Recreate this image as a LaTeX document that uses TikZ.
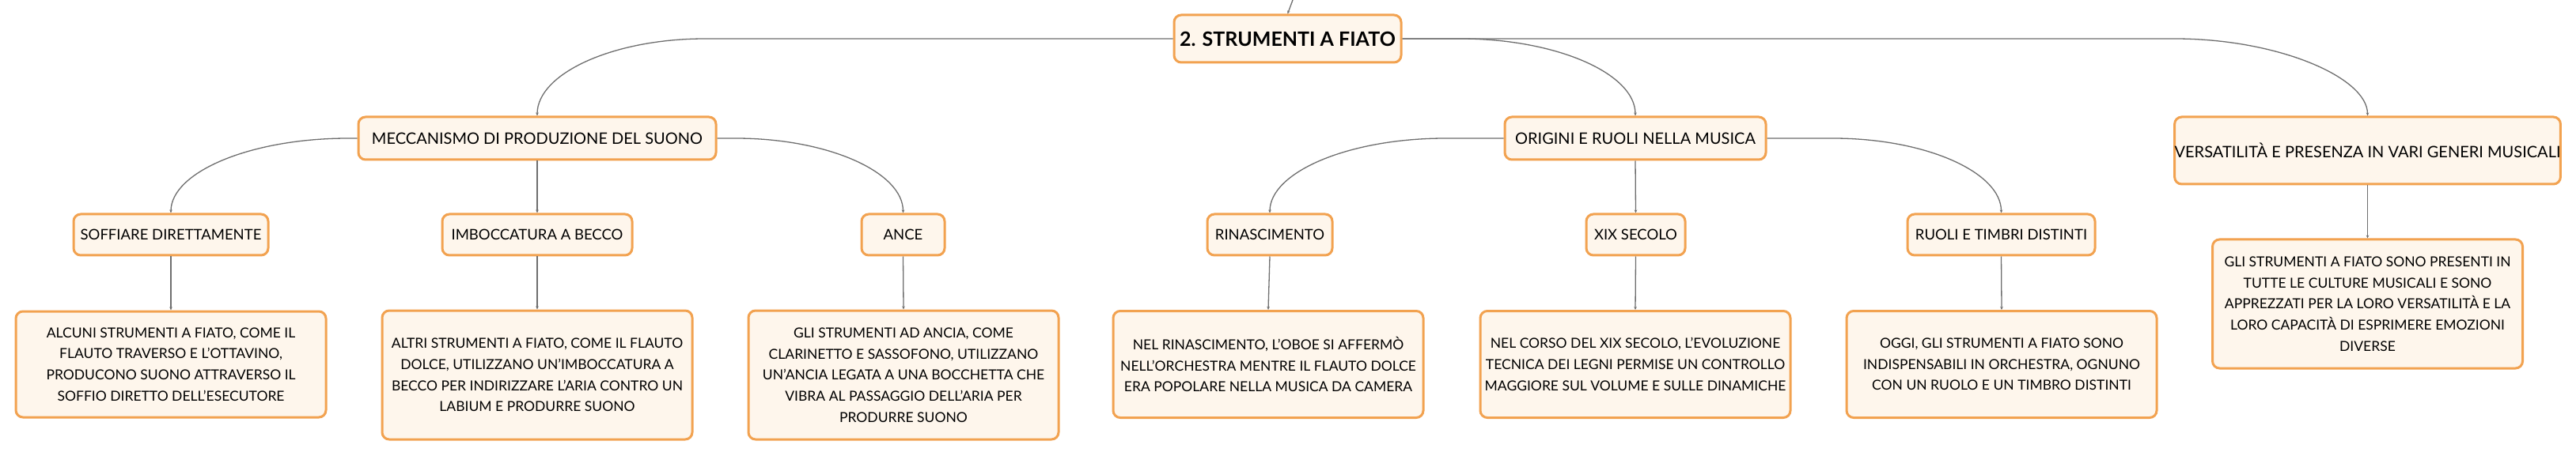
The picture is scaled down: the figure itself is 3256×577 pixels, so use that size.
\documentclass[tikz,border=0pt]{standalone}
\usepackage{fontspec}
\setmainfont{Lato}
\usetikzlibrary{arrows.meta}

\definecolor{boxline}{HTML}{F2A250}
\definecolor{boxfill}{HTML}{FEF6EC}
\definecolor{linkgray}{HTML}{6E6E6E}

\begin{document}
\begin{tikzpicture}[x=1pt, y=-1pt]
    % Define styles
    \tikzset{
        card/.style={
            draw=boxline,
            fill=boxfill,
            line width=3pt,
            rounded corners=9pt,
            inner sep=0pt,
            align=center,
            text=black
        },
        topic/.style={
            card,
            font=\fontsize{25}{30}\selectfont\bfseries
        },
        branch/.style={
            card,
            minimum height=54pt,
            font=\fontsize{20}{26}\selectfont
        },
        leaf/.style={
            card,
            minimum height=52pt,
            font=\fontsize{18.5}{24}\selectfont
        },
        note/.style={
            card,
            minimum width=392pt,
            minimum height=134pt,
            font=\fontsize{17.5}{26.7}\selectfont
        },
        link/.style={
            linkgray,
            line width=1.3pt,
            -{Stealth[length=4pt, width=3.5pt]}
        }
    }

    % Canvas
    \fill[white] (0,0) rectangle (3256,577);
    \useasboundingbox (0,0) rectangle (3256,577);

    % Central topic
    \node[topic, minimum width=287pt, minimum height=60pt] (root) at (1627.5,49) {2. STRUMENTI A FIATO};
    \coordinate (parent) at (1634,0);

    % Main branches
    \node[branch, minimum width=452pt] (mecc) at (679,175) {MECCANISMO DI PRODUZIONE DEL SUONO};
    \node[branch, minimum width=330pt] (orig) at (2067,175) {ORIGINI E RUOLI NELLA MUSICA};
    \node[branch, minimum width=487pt, minimum height=85pt] (vers) at (2992.5,190.5) {VERSATILITÀ E PRESENZA IN VARI GENERI MUSICALI};

    % Sub-topics
    \node[leaf, minimum width=246pt] (soff) at (216,297) {SOFFIARE DIRETTAMENTE};
    \node[leaf, minimum width=240pt] (becco) at (679,297) {IMBOCCATURA A BECCO};
    \node[leaf, minimum width=105pt] (ance) at (1141.5,297) {ANCE};
    \node[leaf, minimum width=158pt] (rinasc) at (1605,297) {RINASCIMENTO};
    \node[leaf, minimum width=125pt] (xix) at (2067.5,297) {XIX SECOLO};
    \node[leaf, minimum width=237pt] (ruoli) at (2529.5,297) {RUOLI E TIMBRI DISTINTI};

    % Notes
    \node[note] (soffNote) at (216,461) {ALCUNI STRUMENTI A FIATO, COME IL\\FLAUTO TRAVERSO E L'OTTAVINO,\\PRODUCONO SUONO ATTRAVERSO IL\\SOFFIO DIRETTO DELL'ESECUTORE};
    \node[note, minimum height=163pt] (beccoNote) at (679,474.5) {ALTRI STRUMENTI A FIATO, COME IL FLAUTO\\DOLCE, UTILIZZANO UN'IMBOCCATURA A\\BECCO PER INDIRIZZARE L'ARIA CONTRO UN\\LABIUM E PRODURRE SUONO};
    \node[note, minimum height=163pt] (anceNote) at (1142,474.5) {GLI STRUMENTI AD ANCIA, COME\\CLARINETTO E SASSOFONO, UTILIZZANO\\UN'ANCIA LEGATA A UNA BOCCHETTA CHE\\VIBRA AL PASSAGGIO DELL'ARIA PER\\PRODURRE SUONO};
    \node[note, minimum height=135pt] (rinascNote) at (1603,461) {NEL RINASCIMENTO, L'OBOE SI AFFERMÒ\\NELL'ORCHESTRA MENTRE IL FLAUTO DOLCE\\ERA POPOLARE NELLA MUSICA DA CAMERA};
    \node[note, minimum height=135pt] (xixNote) at (2067,461) {NEL CORSO DEL XIX SECOLO, L'EVOLUZIONE\\TECNICA DEI LEGNI PERMISE UN CONTROLLO\\MAGGIORE SUL VOLUME E SULLE DINAMICHE};
    \node[note, minimum height=135pt] (ruoliNote) at (2530,461) {OGGI, GLI STRUMENTI A FIATO SONO\\INDISPENSABILI IN ORCHESTRA, OGNUNO\\CON UN RUOLO E UN TIMBRO DISTINTI};
    \node[note, minimum height=163pt] (versNote) at (2992.5,384.5) {GLI STRUMENTI A FIATO SONO PRESENTI IN\\TUTTE LE CULTURE MUSICALI E SONO\\APPREZZATI PER LA LORO VERSATILITÀ E LA\\LORO CAPACITÀ DI ESPRIMERE EMOZIONI\\DIVERSE};

    % Links from the central topic
    \draw[link] (parent) -- (root.north);
    \draw[link] (root.west) -- (891,49) .. controls (775,49) and (679,93) .. (mecc.north);
    \draw[link] (root.east) -- (1846,49) .. controls (1967,49) and (2067,93) .. (orig.north);
    \draw[link] (root.east) -- (2749,49) .. controls (2879,49) and (2992.5,98) .. (vers.north);

    % Links to sub-topics
    \draw[link] (mecc.west) -- (440,175) .. controls (316,175) and (216,218) .. (soff.north);
    \draw[link] (mecc.south) -- (becco.north);
    \draw[link] (mecc.east) -- (930,175) .. controls (1047,175) and (1141.5,218) .. (ance.north);
    \draw[link] (orig.west) -- (1827,175) .. controls (1704,175) and (1605,218) .. (rinasc.north);
    \draw[link] (orig.south) -- (xix.north);
    \draw[link] (orig.east) -- (2317,175) .. controls (2434,175) and (2529.5,218) .. (ruoli.north);

    % Links to notes
    \foreach \a in {soff, becco, ance, rinasc, xix, ruoli, vers}
        \draw[link] (\a.south) -- (\a Note.north);

\end{tikzpicture}
\end{document}
